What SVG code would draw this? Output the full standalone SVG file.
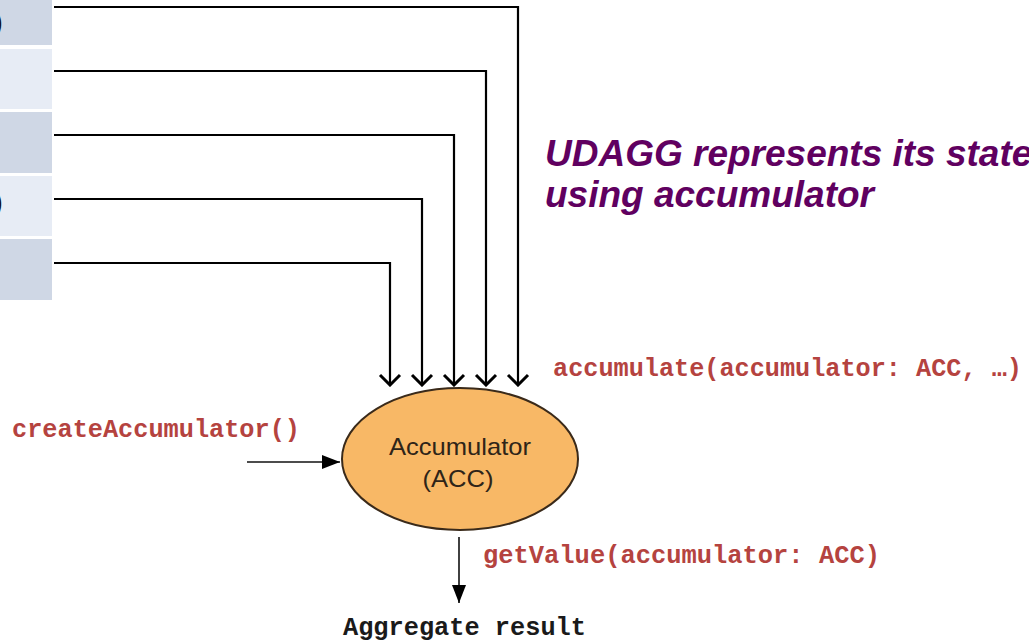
<svg xmlns="http://www.w3.org/2000/svg" width="1029" height="642" viewBox="0 0 1029 642">
  <style>
    .cell-dark { fill: #cfd7e5; }
    .cell-light { fill: #e7ecf5; }
    .wire { fill: none; stroke: #000; stroke-width: 2.2; }
    .feed { fill: none; stroke: #111; stroke-width: 1.6; }
    .code { font-family: "Liberation Mono", "DejaVu Sans Mono", monospace; font-weight: bold; font-size: 25px; fill: #b5433f; }
    .result { font-family: "Liberation Mono", "DejaVu Sans Mono", monospace; font-weight: bold; font-size: 25px; fill: #1a1a1a; }
    .note { font-family: "Liberation Sans", Arial, sans-serif; font-weight: bold; font-style: italic; font-size: 37px; fill: #600060; }
    .label { font-family: "Liberation Sans", Arial, sans-serif; font-size: 24px; fill: #2e2418; text-anchor: middle; }
  </style>
  <defs>
    <!-- open chevron head for the input wires -->
    <marker id="open" viewBox="0 0 14 24" refX="12" refY="12" markerWidth="14" markerHeight="24" markerUnits="userSpaceOnUse" orient="auto">
      <path d="M2,2 L12,12 L2,22" fill="none" stroke="#000" stroke-width="3"/>
    </marker>
    <!-- filled head for the create / result arrows -->
    <marker id="solid" viewBox="0 0 18 14" refX="18" refY="7" markerWidth="18" markerHeight="14" markerUnits="userSpaceOnUse" orient="auto">
      <path d="M0,0 L18,7 L0,14 Z" fill="#000"/>
    </marker>
  </defs>

  <!-- input rows -->
  <g id="rows">
    <rect class="cell-dark" x="0" y="0" width="52" height="45"/>
    <rect class="cell-light" x="0" y="49" width="52" height="60"/>
    <rect class="cell-dark" x="0" y="112" width="52" height="61"/>
    <rect class="cell-light" x="0" y="176" width="52" height="60"/>
    <rect class="cell-dark" x="0" y="239" width="52" height="61"/>
    <text x="-7" y="32" font-family="Liberation Sans, Arial, sans-serif" font-size="30" fill="#111">)</text>
    <text x="-7" y="212" font-family="Liberation Sans, Arial, sans-serif" font-size="30" fill="#111">)</text>
  </g>

  <!-- connectors -->
  <g id="connectors">
    <polyline class="wire" points="54,7 518,7 518,385" marker-end="url(#open)"/>
    <polyline class="wire" points="54,71 486,71 486,385" marker-end="url(#open)"/>
    <polyline class="wire" points="54,135 454,135 454,385" marker-end="url(#open)"/>
    <polyline class="wire" points="54,199 422,199 422,385" marker-end="url(#open)"/>
    <polyline class="wire" points="54,263 390,263 390,385" marker-end="url(#open)"/>
    <line class="feed" x1="247" y1="462" x2="340" y2="462" marker-end="url(#solid)"/>
    <line class="feed" x1="459" y1="537" x2="459" y2="603" marker-end="url(#solid)"/>
  </g>

  <!-- accumulator node -->
  <g id="accumulator">
    <ellipse cx="460" cy="459" rx="118" ry="71" fill="#f8b866" stroke="#3a2a1a" stroke-width="2"/>
    <text class="label" x="460" y="455" textLength="142" lengthAdjust="spacingAndGlyphs">Accumulator</text>
    <text class="label" x="458" y="487" textLength="71" lengthAdjust="spacingAndGlyphs">(ACC)</text>
  </g>

  <!-- labels -->
  <g id="labels">
    <text class="note" x="545" y="166">UDAGG represents its state</text>
    <text class="note" x="545" y="207">using accumulator</text>
    <text class="code" x="553" y="376" textLength="469" lengthAdjust="spacingAndGlyphs">accumulate(accumulator: ACC, …)</text>
    <text class="code" x="12" y="437" textLength="288" lengthAdjust="spacingAndGlyphs">createAccumulator()</text>
    <text class="code" x="483" y="563" textLength="397" lengthAdjust="spacingAndGlyphs">getValue(accumulator: ACC)</text>
    <text class="result" x="343" y="635" textLength="243" lengthAdjust="spacingAndGlyphs">Aggregate result</text>
  </g>
</svg>
